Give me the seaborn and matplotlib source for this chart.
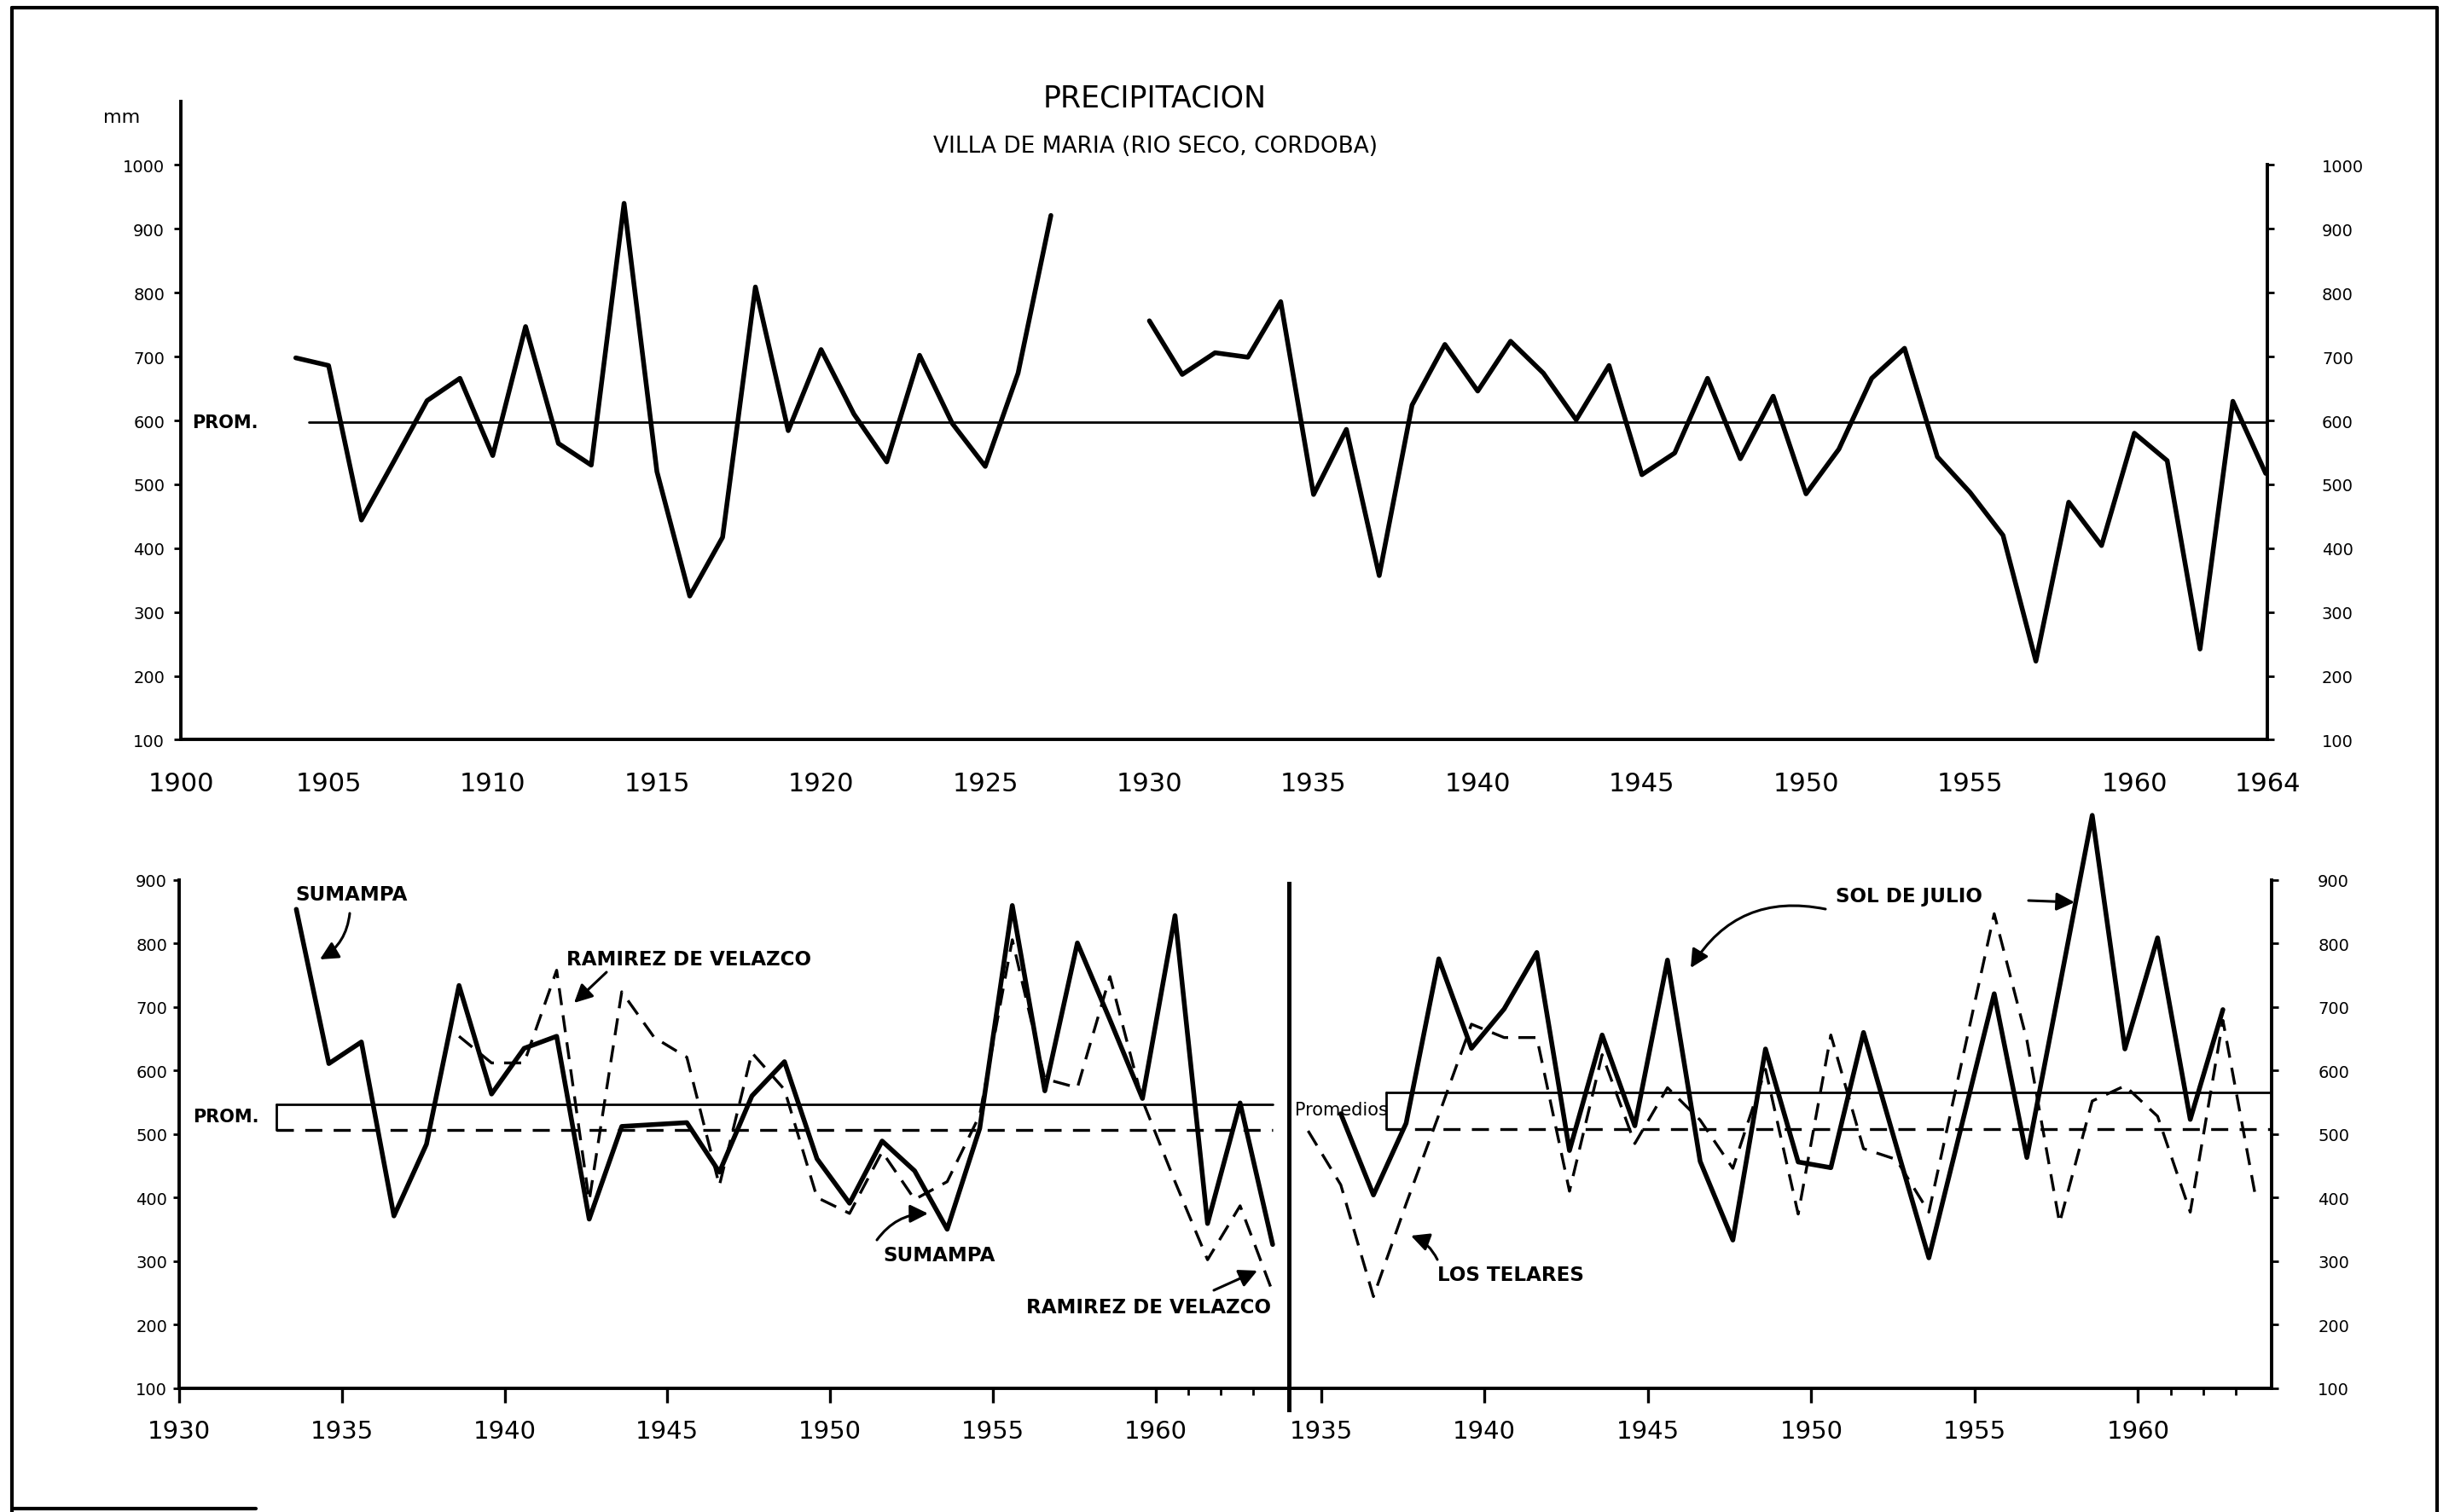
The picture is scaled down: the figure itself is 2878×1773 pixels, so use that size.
import numpy as np
import pandas as pd
import matplotlib
matplotlib.use("Agg")
import matplotlib.pyplot as plt
from matplotlib.lines import Line2D
import seaborn as sns

# ---------------- data ----------------
villa_years_a = list(range(1904, 1928))
villa_vals_a = [698, 686, 444, 537, 631, 666, 545, 747, 564, 530, 940, 520, 325, 417,
                809, 584, 711, 610, 535, 702, 595, 528, 674, 921]
villa_years_b = list(range(1930, 1965))
villa_vals_b = [756, 672, 706, 699, 786, 484, 586, 357, 624, 719, 646, 724, 674, 601,
                686, 515, 549, 666, 540, 638, 485, 555, 666, 713, 543, 487, 420, 223,
                472, 404, 580, 537, 242, 630, 517]
villa_prom = 597

sumampa_years = list(range(1933, 1964))
sumampa_vals = [854, 611, 645, 371, 484, 734, 563, 635, 654, 366, 512, 515, 518, 440,
                560, 614, 461, 391, 489, 442, 350, 509, 860, 568, 801, 680, 556, 844,
                359, 549, 326]
ramirez_years = list(range(1938, 1964))
ramirez_vals = [654, 612, 612, 758, 395, 724, 652, 621, 419, 628, 570, 400, 375, 472,
                397, 425, 530, 806, 587, 573, 748, 553, 425, 302, 387, 251]
sumampa_prom = 547
ramirez_prom = 507

soljulio_years = list(range(1935, 1963))
soljulio_vals = [532, 404, 517, 776, 635, 697, 786, 474, 656, 513, 774, 457, 333, 634,
                 456, 447, 660, 482, 305, 513, 721, 463, 732, 1002, 634, 809, 523, 696]
telares_years = list(range(1934, 1964))
telares_vals = [505, 420, 244, 390, 530, 673, 652, 652, 410, 625, 485, 573, 522, 446,
                602, 374, 656, 477, 460, 377, 612, 847, 648, 360, 552, 576, 528, 377,
                679, 401]
soljulio_prom = 565
telares_prom = 508

top_xticks = [1905, 1910, 1915, 1920, 1925, 1930, 1935, 1940, 1945, 1950, 1955, 1960]
y_ticks_top = [100, 200, 300, 400, 500, 600, 700, 800, 900, 1000]
y_ticks_bot = [100, 200, 300, 400, 500, 600, 700, 800, 900]

# ---------------- style ----------------
sns.set_theme(style="white")
plt.rcParams['font.family'] = ['DejaVu Sans']
plt.rcParams['axes.linewidth'] = 1.4
plt.rcParams['xtick.color'] = 'black'
plt.rcParams['ytick.color'] = 'black'
plt.rcParams['text.color'] = 'black'
plt.rcParams['axes.edgecolor'] = 'black'

W, H, DPI = 2878, 1774, 200
fig = plt.figure(figsize=(W / DPI, H / DPI), dpi=DPI)
fig.patch.set_facecolor('white')


def rect(x0, x1, ytop, ybot):
    return [x0 / W, 1 - ybot / H, (x1 - x0) / W, (ybot - ytop) / H]


K = 'black'
SOLID_LW = 2.0
DASH_LW = 1.2
DASH = (0, (6, 3.6))

# ================= TOP PANEL =================
ax = fig.add_axes(rect(212, 2658, 119.6, 868.4))
ax.set_facecolor('none')
sns.lineplot(x=villa_years_a, y=villa_vals_a, ax=ax, color=K, linewidth=SOLID_LW, estimator=None)
sns.lineplot(x=villa_years_b, y=villa_vals_b, ax=ax, color=K, linewidth=SOLID_LW, estimator=None)
x_left_top, x_right_top = 1900.5, 1964.05
ax.plot([1904.4, x_right_top], [villa_prom, villa_prom], color=K, lw=1.0)
ax.set_xlim(x_left_top, x_right_top)
ax.set_ylim(100, 1100)
ax.spines['top'].set_visible(False)
ax.spines['right'].set_visible(False)
ax.spines['left'].set_bounds(100, 1100)
ax.set_xticks([x_left_top] + top_xticks + [x_right_top])
ax.set_xticklabels(['1900'] + [str(t) for t in top_xticks] + ['1964'], fontsize=11)
ax.set_yticks(y_ticks_top)
ax.set_yticklabels([str(t) for t in y_ticks_top], fontsize=7)
ax.tick_params(axis='x', direction='out', length=5, width=1.2, pad=8)
ax.tick_params(axis='y', direction='out', length=3, width=1.0, pad=3.8)
ax.set_xlabel('')
ax.set_ylabel('')

axr = ax.twinx()
axr.set_ylim(100, 1100)
for s in ['top', 'left', 'bottom']:
    axr.spines[s].set_visible(False)
axr.spines['right'].set_bounds(100, 1000)
axr.set_yticks(y_ticks_top)
axr.set_yticklabels([str(t) for t in y_ticks_top], fontsize=7)
axr.tick_params(axis='y', direction='out', length=3, width=1.0, pad=20)
axr.grid(False)
ax.grid(False)

# ================= BOTTOM LEFT =================
OFF = 0.6
axl = fig.add_axes(rect(210, 1511, 951.1, 1628.6))
axl.set_facecolor('none')
sns.lineplot(x=np.array(sumampa_years) + OFF, y=sumampa_vals, ax=axl, color=K,
             linewidth=SOLID_LW, estimator=None)
sns.lineplot(x=np.array(ramirez_years) + OFF, y=ramirez_vals, ax=axl, color=K,
             linewidth=DASH_LW, linestyle=DASH, estimator=None)
axl.plot([1933.0, 1963.6], [sumampa_prom, sumampa_prom], color=K, lw=1.0)
axl.plot([1933.0, 1963.6], [ramirez_prom, ramirez_prom], color=K, lw=1.2, linestyle=(0, (6, 4)))
axl.plot([1933.0, 1933.0], [ramirez_prom, sumampa_prom], color=K, lw=1.0)
axl.set_xlim(1930, 1964.1)
axl.set_ylim(100, 1010)
axl.spines['top'].set_visible(False)
axl.spines['left'].set_bounds(100, 900)
axl.spines['right'].set_bounds(66, 895)
axl.spines['right'].set_linewidth(1.8)
axl.set_xticks([1930, 1935, 1940, 1945, 1950, 1955, 1960])
axl.set_xticklabels(['1930', '1935', '1940', '1945', '1950', '1955', '1960'], fontsize=10.5)
axl.set_xticks([1961, 1962, 1963], minor=True)
axl.set_yticks(y_ticks_bot)
axl.set_yticklabels([str(t) for t in y_ticks_bot], fontsize=7)
axl.tick_params(axis='x', which='major', direction='out', length=6, width=1.2, pad=7, bottom=True)
axl.tick_params(axis='x', which='minor', direction='out', length=3, width=1.0, bottom=True)
axl.tick_params(axis='y', direction='out', length=2.5, width=1.0, pad=2.5, left=True, right=False)
axl.set_xlabel('')
axl.set_ylabel('')
axl.grid(False)

# ================= BOTTOM RIGHT =================
axb = fig.add_axes(rect(1510.5, 2663, 951.1, 1628.6))
axb.set_facecolor('none')
sns.lineplot(x=np.array(soljulio_years) + OFF, y=soljulio_vals, ax=axb, color=K,
             linewidth=SOLID_LW, estimator=None)
sns.lineplot(x=np.array(telares_years) + OFF, y=telares_vals, ax=axb, color=K,
             linewidth=DASH_LW, linestyle=DASH, estimator=None)
axb.plot([1937.0, 1964.09], [soljulio_prom, soljulio_prom], color=K, lw=1.0)
axb.plot([1937.0, 1964.09], [telares_prom, telares_prom], color=K, lw=1.2, linestyle=(0, (6, 4)))
axb.plot([1937.0, 1937.0], [telares_prom, soljulio_prom], color=K, lw=1.0)
axb.set_xlim(1934, 1964.09)
axb.set_ylim(100, 1010)
axb.spines['top'].set_visible(False)
axb.spines['left'].set_visible(False)
axb.spines['right'].set_bounds(100, 900)
axb.set_xticks([1935, 1940, 1945, 1950, 1955, 1960])
axb.set_xticklabels(['1935', '1940', '1945', '1950', '1955', '1960'], fontsize=10.5)
axb.set_xticks([1961, 1962, 1963], minor=True)
axb.yaxis.tick_right()
axb.set_yticks(y_ticks_bot)
axb.set_yticklabels([str(t) for t in y_ticks_bot], fontsize=7)
axb.tick_params(axis='x', which='major', direction='out', length=6, width=1.2, pad=7, bottom=True)
axb.tick_params(axis='x', which='minor', direction='out', length=3, width=1.0, bottom=True)
axb.tick_params(axis='y', direction='out', length=3, width=1.0, pad=16.5, right=True, left=False)
axb.set_xlabel('')
axb.set_ylabel('')
axb.grid(False)

# ================= TEXTS =================
def ftext(X, Y, s, **kw):
    fig.text(X / W, 1 - Y / H, s, color=K, **kw)

ftext(1354, 116, 'PRECIPITACION', fontsize=12.5, ha='center', va='center')
ftext(1354, 172, 'VILLA DE MARIA (RIO SECO, CORDOBA)', fontsize=9.5, ha='center', va='center')
ftext(143, 138, 'mm', fontsize=8, ha='center', va='center')
ftext(225, 496, 'PROM.', fontsize=7.5, fontweight='bold', ha='left', va='center')
ftext(226, 1310, 'PROM.', fontsize=7.5, fontweight='bold', ha='left', va='center')
ftext(1518, 1302, 'Promedios', fontsize=7.5, ha='left', va='center')

lab = dict(fontsize=8.3, fontweight='bold', va='center')
ftext(346, 1050, 'SUMAMPA', ha='left', **lab)
ftext(664, 1125, 'RAMIREZ DE VELAZCO', ha='left', **lab)
ftext(1035, 1473, 'SUMAMPA', ha='left', **lab)
ftext(1203, 1533, 'RAMIREZ DE VELAZCO', ha='left', **lab)
ftext(1685, 1496, 'LOS TELARES', ha='left', **lab)
ftext(2152, 1052, 'SOL DE JULIO', ha='left', **lab)


def farrow(X0, Y0, X1, Y1, rad=0.0):
    fig.add_artist(matplotlib.patches.FancyArrowPatch(
        (X0 / W, 1 - Y0 / H), (X1 / W, 1 - Y1 / H), transform=fig.transFigure,
        arrowstyle='-|>,head_length=4,head_width=2', mutation_scale=1.6,
        connectionstyle=f'arc3,rad={rad}', color=K, lw=1.1,
        shrinkA=0, shrinkB=0))

farrow(410, 1072, 375, 1126, rad=-0.25)
farrow(711, 1141, 673, 1177, rad=0.0)
farrow(1028, 1455, 1088, 1424, rad=-0.25)
farrow(1423, 1514, 1474, 1491, rad=0.0)
farrow(1685, 1478, 1654, 1450, rad=0.2)
farrow(2378, 1057, 2432, 1059, rad=0.0)
farrow(2140, 1067, 1982, 1136, rad=0.35)

# page frame
for xs, ys in [([14, 2857], [10, 10]), ([14, 14], [10, 1774]), ([2857, 2857], [10, 1774]),
               ([14, 300], [1770, 1770])]:
    fig.add_artist(Line2D([x / W for x in xs], [1 - y / H for y in ys],
                          transform=fig.transFigure, color=K, lw=1.5))

fig.savefig('out.png', dpi=DPI, facecolor='white')
